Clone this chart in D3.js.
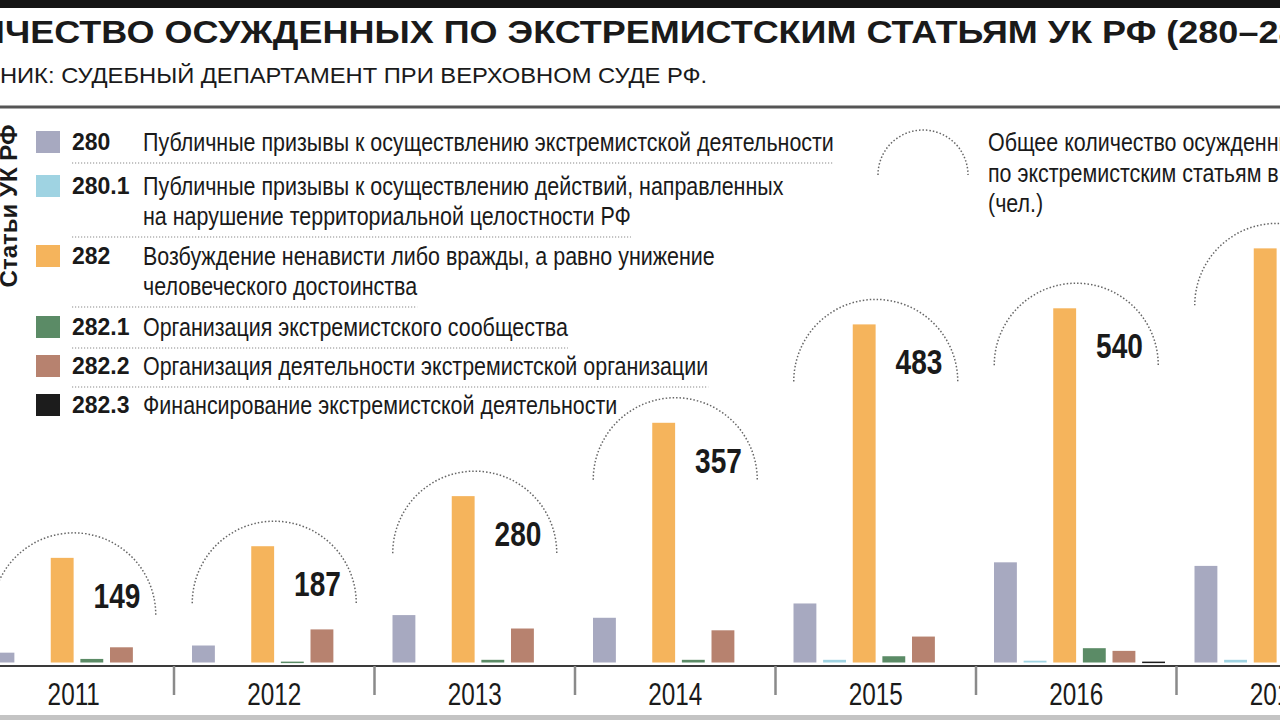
<!DOCTYPE html>
<html>
<head>
<meta charset="utf-8">
<script src="https://cdn.jsdelivr.net/npm/d3@7"></script>
<style>
  html, body { margin: 0; padding: 0; background: #fff; overflow: hidden; }
  svg { display: block; }
  text { font-family: 'Liberation Sans', Arial, sans-serif; fill: #1a1a1a; }
</style>
</head>
<body>
<svg id="chart" width="1280" height="720"></svg>
<script>
// years shown on the axis
var years = ['2011', '2012', '2013', '2014', '2015', '2016', '2017'];

// convictions per article (people); null = cut off in the picture
var art280  = [11, 19, 53, 50, 66, 112, 108];
var art2801 = [0, 0, 0, 0, 3, 2, 3];
var art282  = [117, 130, 186, 268, 378, 396, 463];
var art2821 = [4, 1, 3, 3, 7, 16, null];
var art2822 = [17, 37, 38, 36, 29, 13, null];
var art2823 = [0, 0, 0, 0, 0, 1, null];

// total per year (label in the dotted bubble)
var totals = [149, 187, 280, 357, 483, 540, null];

// legend: article codes and their descriptions
var codes = ['280', '280.1', '282', '282.1', '282.2', '282.3'];
var descriptions = [
  ['Публичные призывы к осуществлению экстремистской деятельности'],
  ['Публичные призывы к осуществлению действий, направленных', 'на нарушение территориальной целостности РФ'],
  ['Возбуждение ненависти либо вражды, а равно унижение', 'человеческого достоинства'],
  ['Организация экстремистского сообщества'],
  ['Организация деятельности экстремистской организации'],
  ['Финансирование экстремистской деятельности']
];
var colors = ['#a7a9c0', '#9fd3e2', '#f5b45c', '#5b8b66', '#b7826f', '#1c1c1c'];

var seriesValues = [art280, art2801, art282, art2821, art2822, art2823];

var svg = d3.select('#chart');

// squeezed / stretched text: the source uses a narrow grotesque
function ctext(parent, x, y, str, size, sx, weight, anchor) {
  return parent.append('text')
    .attr('transform', 'translate(' + x + ',' + y + ') scale(' + sx + ',1)')
    .attr('font-size', size)
    .attr('font-weight', weight || 'normal')
    .attr('text-anchor', anchor || 'start')
    .text(str);
}

function textWidth(str, size, weight) {
  var t = svg.append('text').attr('font-size', size).attr('font-weight', weight).text(str);
  var w = t.node().getComputedTextLength();
  t.remove();
  return w;
}

// --- frame ---
svg.append('rect').attr('x', 0).attr('y', 0).attr('width', 1280).attr('height', 8).attr('fill', '#151515');
svg.append('line').attr('x1', 0).attr('x2', 1280).attr('y1', 107).attr('y2', 107)
  .attr('stroke', '#555').attr('stroke-width', 3);
svg.append('rect').attr('x', 0).attr('y', 715).attr('width', 1280).attr('height', 5).attr('fill', '#c4c4c4');

// --- title, cropped at the left like the source ---
var titleScale = 1.125, subScale = 1.08;
ctext(svg, -textWidth('КОЛИ', 32, 'bold') * titleScale + 5, 43,
  'КОЛИЧЕСТВО ОСУЖДЕННЫХ ПО ЭКСТРЕМИСТСКИМ СТАТЬЯМ УК РФ (280–282.3)', 32, titleScale, 'bold');

ctext(svg, -textWidth('ИСТОЧ', 22, 'normal') * subScale, 83,
  'ИСТОЧНИК: СУДЕБНЫЙ ДЕПАРТАМЕНТ ПРИ ВЕРХОВНОМ СУДЕ РФ.', 22, subScale);

// --- legend ---
svg.append('text')
  .attr('transform', 'translate(17,206) rotate(-90)')
  .attr('text-anchor', 'middle')
  .attr('font-size', 24)
  .attr('font-weight', 'bold')
  .text('Статьи УК РФ');

var legendY = [142, 186, 256, 327, 366, 405];
var lineGap = 30;
var descSize = 26, descScale = 0.825;

var legend = svg.append('g').attr('class', 'legend');
codes.forEach(function(code, i) {
  var cy = legendY[i];
  legend.append('rect')
    .attr('x', 36).attr('y', cy - 11)
    .attr('width', 24).attr('height', 22)
    .attr('fill', colors[i]);
  legend.append('text')
    .attr('x', 72).attr('y', cy + 8)
    .attr('font-size', 23).attr('font-weight', 'bold')
    .text(code);
  var lastWidth = 0;
  descriptions[i].forEach(function(line, j) {
    var t = ctext(legend, 143, cy + 9 + j * lineGap, line, descSize, descScale);
    lastWidth = t.node().getComputedTextLength() * descScale;
  });
  if (i < codes.length - 1) {
    var ly = cy + 21 + (descriptions[i].length - 1) * lineGap;
    legend.append('line')
      .attr('x1', 72).attr('x2', 143 + lastWidth)
      .attr('y1', ly).attr('y2', ly)
      .attr('stroke', '#8a8a8a')
      .attr('stroke-width', 1.2)
      .attr('stroke-dasharray', '1.2,1.8');
  }
});

// total bubble key
var keyArc = d3.path();
keyArc.arc(923, 175, 45, Math.PI, 2 * Math.PI);
svg.append('path').attr('d', keyArc.toString())
  .attr('fill', 'none').attr('stroke', '#666').attr('stroke-width', 1.5).attr('stroke-dasharray', '1.5,2');

['Общее количество осужденных', 'по экстремистским статьям в РФ', '(чел.)'].forEach(function(line, j) {
  ctext(svg, 988, 151 + j * 30.5, line, descSize, descScale);
});

// --- scales ---
var groupWidth = 200.5;
var x0 = d3.scaleBand()
  .domain(years)
  .range([-26.5, -26.5 + groupWidth * years.length]);

var x1 = d3.scaleBand()
  .domain(codes)
  .range([18, 18 + 6 * 28.5])
  .paddingInner(0.228)
  .paddingOuter(0);

var baseY = 662.5;
var y = d3.scaleLinear()
  .domain([0, 540])
  .range([baseY, baseY - 483]);

// --- bars ---
var groups = svg.selectAll('g.year')
  .data(years)
  .enter()
  .append('g')
    .attr('class', 'year')
    .attr('transform', function(d) { return 'translate(' + x0(d) + ',0)'; });

groups.selectAll('rect')
  .data(function(d, yi) {
    return codes.map(function(c, si) {
      return { code: c, value: seriesValues[si][yi], color: colors[si] };
    }).filter(function(e) { return e.value !== null && e.value > 0; });
  })
  .enter()
  .append('rect')
    .attr('x', function(d) { return x1(d.code); })
    .attr('width', x1.bandwidth())
    .attr('y', function(d) { return y(d.value); })
    .attr('height', function(d) { return Math.max(1.5, baseY - y(d.value)); })
    .attr('fill', function(d) { return d.color; });

// --- dotted bubbles with totals ---
years.forEach(function(yr, i) {
  var cx = x0(yr) + groupWidth / 2;
  var cy = y(art282[i]) + 57;
  var p = d3.path();
  p.arc(cx, cy, 82, Math.PI, 2 * Math.PI);
  svg.append('path').attr('d', p.toString())
    .attr('fill', 'none')
    .attr('stroke', '#666')
    .attr('stroke-width', 1.5)
    .attr('stroke-dasharray', '1.5,2');
  if (totals[i] !== null) {
    ctext(svg, x0(yr) + x1('282') + x1.bandwidth() + 20, cy - 7, totals[i], 36, 0.78, 'bold');
  }
});

// --- x axis ---
svg.append('line')
  .attr('x1', 0).attr('x2', 1280)
  .attr('y1', 666).attr('y2', 666)
  .attr('stroke', '#3a3a3a').attr('stroke-width', 2);

svg.selectAll('line.sep')
  .data(years.slice(1))
  .enter()
  .append('line')
    .attr('class', 'sep')
    .attr('x1', function(d) { return x0(d); })
    .attr('x2', function(d) { return x0(d); })
    .attr('y1', 666).attr('y2', 695)
    .attr('stroke', '#8a8a8a').attr('stroke-width', 2.5);

years.forEach(function(yr) {
  ctext(svg, x0(yr) + groupWidth / 2, 705, yr, 32, 0.76, 'normal', 'middle');
});
</script>
</body>
</html>
